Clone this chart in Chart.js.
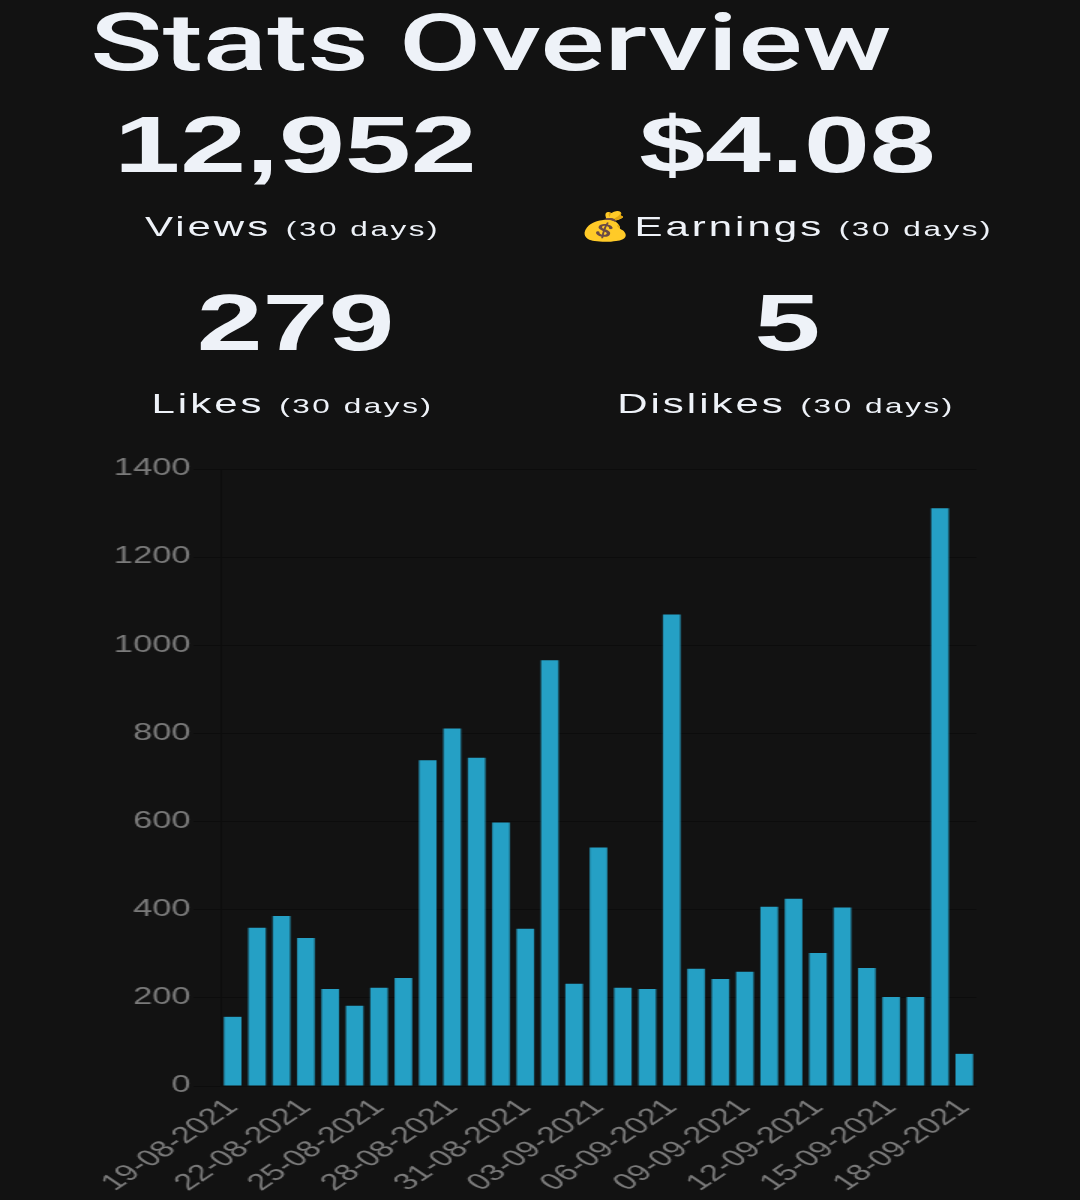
<!DOCTYPE html>
<html>
<head>
<meta charset="utf-8">
<script src="https://cdn.jsdelivr.net/npm/chart.js@4"></script>
<style>
  html, body { margin: 0; padding: 0; background: #121212; }
  body { width: 1080px; height: 1200px; overflow: hidden; }
  #stage { position: absolute; left: 0; top: 0; width: 720px; height: 1200px; transform: scaleX(1.5); transform-origin: 0 0; }
  .title { position: absolute; left: 60px; top: 3px; font-family: Roboto, sans-serif; font-weight: 500; font-size: 80px; line-height: 1; color: #eef2f8; white-space: nowrap; }
  .num { position: absolute; width: 400px; text-align: center; font-family: "Liberation Sans", Arial, sans-serif; font-weight: 700; font-size: 79px; line-height: 1; color: #eef2f8; white-space: nowrap; }
  .lbl { position: absolute; width: 400px; text-align: center; font-family: "Liberation Sans", Arial, sans-serif; font-size: 28px; line-height: 1; color: #eef2f8; white-space: nowrap; letter-spacing: 2px; }
  .lbl small { font-size: 21px; letter-spacing: 1.7px; }
  #chartBox { position: absolute; left: 0; top: 440px; width: 720px; height: 760px; }
</style>
</head>
<body>
<div id="stage">
  <div class="title">Stats Overview</div>
  <div class="num" style="left:-3px; top:105px;">12,952</div>
  <div class="num" style="left:325px; top:105px;">$4.08</div>
  <div class="lbl" style="left:-5px; top:213px;">Views <small>(30 days)</small></div>
  <div class="lbl" style="left:324px; top:213px;">💰Earnings <small>(30 days)</small></div>
  <div class="num" style="left:-3px; top:283px;">279</div>
  <div class="num" style="left:325px; top:283px;">5</div>
  <div class="lbl" style="left:-5px; top:390px;">Likes <small>(30 days)</small></div>
  <div class="lbl" style="left:324px; top:390px;">Dislikes <small>(30 days)</small></div>
  <div id="chartBox"><canvas id="c"></canvas></div>
</div>
<script>
const dates = [
  "19-08-2021","20-08-2021","21-08-2021","22-08-2021","23-08-2021","24-08-2021","25-08-2021",
  "26-08-2021","27-08-2021","28-08-2021","29-08-2021","30-08-2021","31-08-2021","01-09-2021",
  "02-09-2021","03-09-2021","04-09-2021","05-09-2021","06-09-2021","07-09-2021","08-09-2021",
  "09-09-2021","10-09-2021","11-09-2021","12-09-2021","13-09-2021","14-09-2021","15-09-2021",
  "16-09-2021","17-09-2021","18-09-2021"
];
const views = [
  157, 359, 386, 336, 220, 182, 223,
  245, 739, 811, 745, 598, 357, 966,
  232, 541, 223, 220, 1070, 266, 243,
  259, 407, 425, 302, 405, 268, 202,
  202, 1311, 73
];
const yTicks = [0, 200, 400, 600, 800, 1000, 1200, 1400];

const tickFont = { family: "'Liberation Sans', Arial, sans-serif", size: 23 };
new Chart(document.getElementById('c'), {
  type: 'bar',
  data: {
    labels: dates,
    datasets: [{
      label: 'Views',
      data: views,
      backgroundColor: '#25a0c5',
      borderWidth: 0
    }]
  },
  options: {
    responsive: true,
    maintainAspectRatio: false,
    animation: false,
    layout: { padding: { left: 0, right: 69, top: 29, bottom: 0 } },
    plugins: { legend: { display: false }, tooltip: { enabled: false } },
    scales: {
      x: {
        grid: { display: false, drawTicks: false },
        border: { display: false },
        ticks: {
          color: '#7b7b7b',
          font: tickFont,
          autoSkip: false,
          minRotation: 45,
          maxRotation: 45,
          padding: 8,
          callback: function(v, i) { return i % 3 === 0 ? dates[i] : ''; }
        },
        afterFit: function(s) { s.height = 114; }
      },
      y: {
        min: yTicks[0],
        max: yTicks[yTicks.length - 1],
        grid: { color: 'rgba(0,0,0,0.3)', lineWidth: 1, tickLength: 18 },
        border: { display: true, color: 'rgba(0,0,0,0.3)' },
        ticks: {
          color: '#7b7b7b',
          font: tickFont,
          stepSize: 200,
          padding: 2,
          callback: function(v) { return yTicks.includes(v) ? String(v) : ''; }
        },
        afterFit: function(s) { s.width = 147; }
      }
    }
  }
});
</script>
</body>
</html>
